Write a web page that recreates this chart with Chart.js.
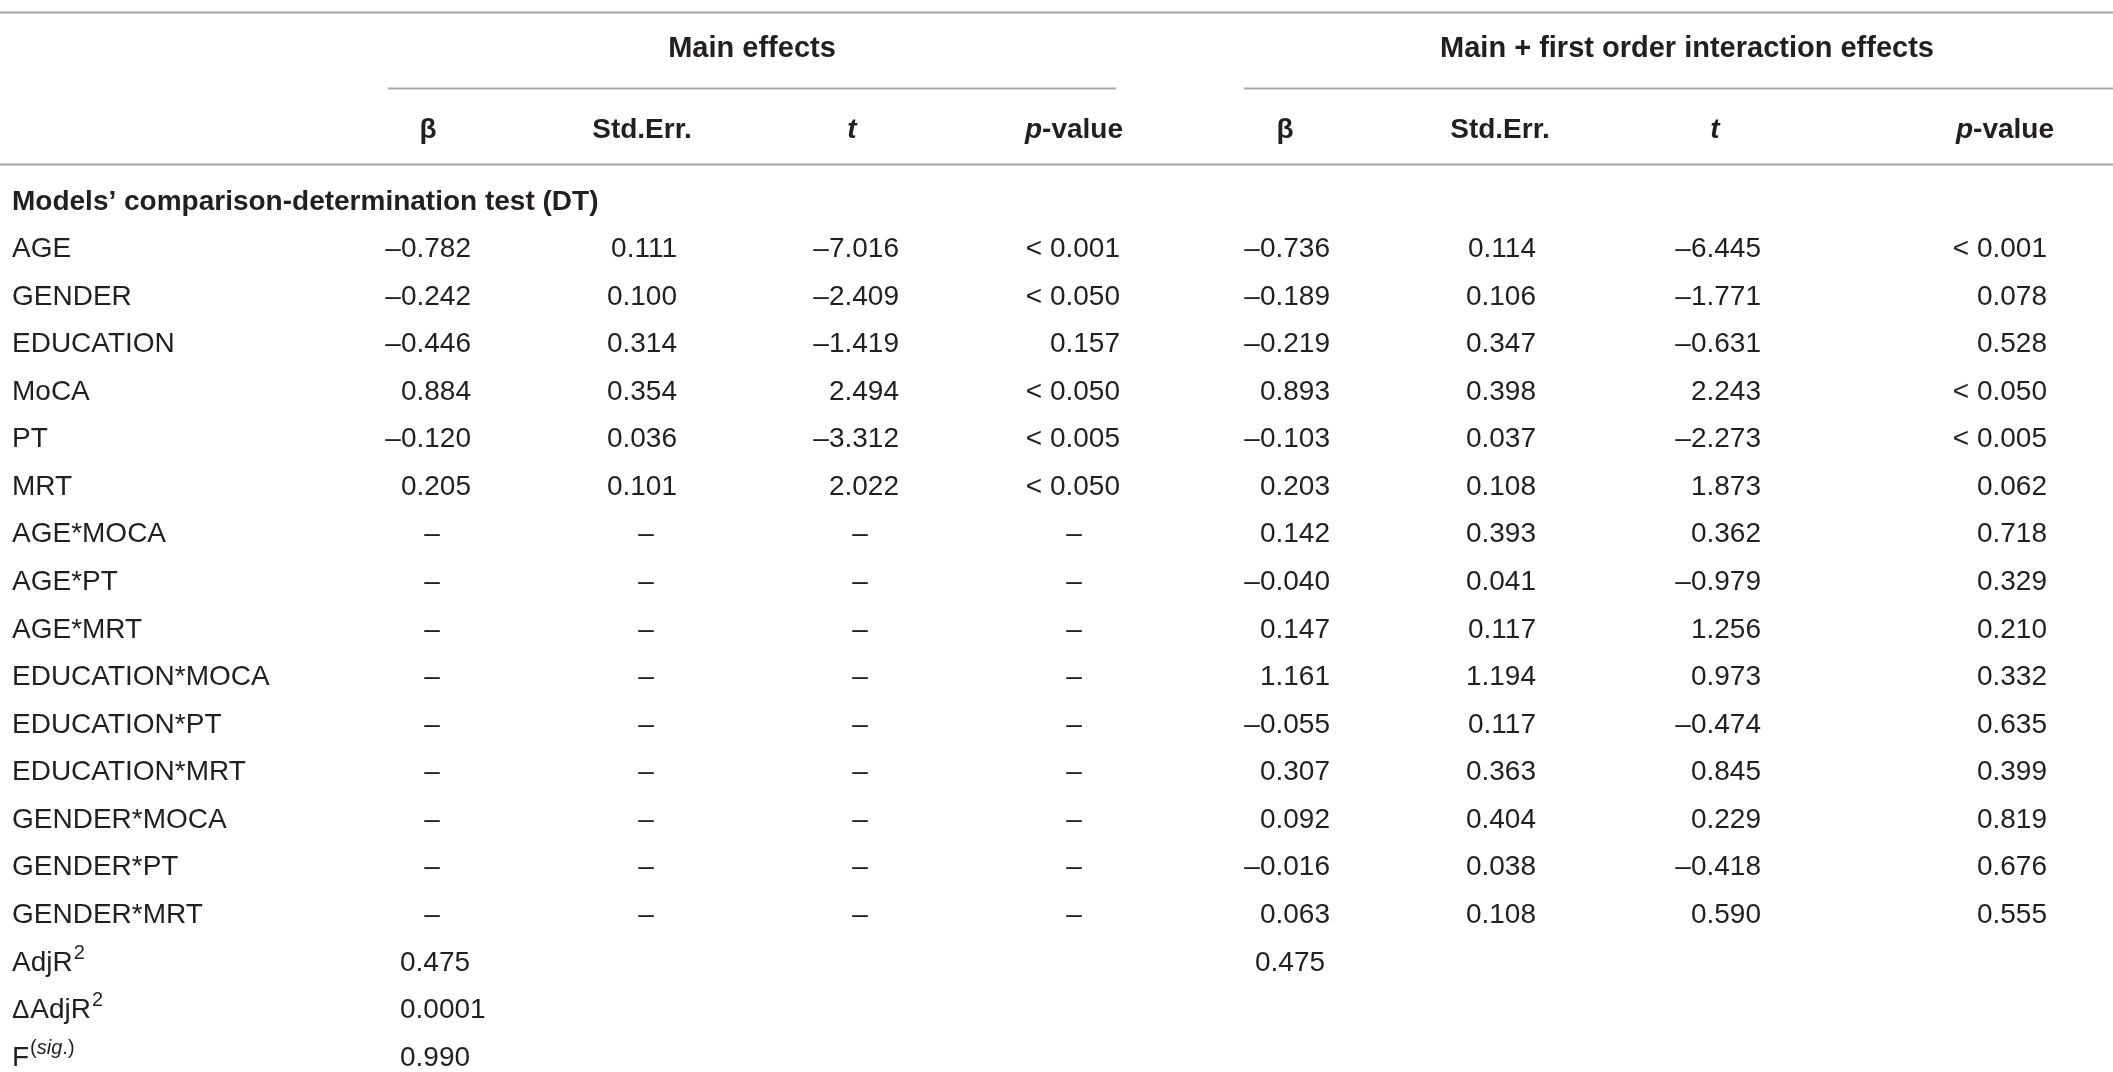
<!DOCTYPE html>
<html>
<head>
<meta charset="utf-8">
<script src="https://cdn.jsdelivr.net/npm/chart.js@4.4.1/dist/chart.umd.min.js"></script>
<style>
  body { margin: 0; background: #fff; }
  #wrap { width: 2113px; height: 1072px; }
</style>
</head>
<body>
<div id="wrap"><canvas id="tableChart"></canvas></div>
<script>
// table content
const rowLabels = ["AGE", "GENDER", "EDUCATION", "MoCA", "PT", "MRT", "AGE*MOCA", "AGE*PT", "AGE*MRT",
  "EDUCATION*MOCA", "EDUCATION*PT", "EDUCATION*MRT", "GENDER*MOCA", "GENDER*PT", "GENDER*MRT"];

const mainBeta = [-0.782, -0.242, -0.446, 0.884, -0.120, 0.205, null, null, null, null, null, null, null, null, null];
const mainSE   = [0.111, 0.100, 0.314, 0.354, 0.036, 0.101, null, null, null, null, null, null, null, null, null];
const mainT    = [-7.016, -2.409, -1.419, 2.494, -3.312, 2.022, null, null, null, null, null, null, null, null, null];
const mainP    = ["< 0.001", "< 0.050", "0.157", "< 0.050", "< 0.005", "< 0.050", null, null, null, null, null, null, null, null, null];

const interBeta = [-0.736, -0.189, -0.219, 0.893, -0.103, 0.203, 0.142, -0.040, 0.147, 1.161, -0.055, 0.307, 0.092, -0.016, 0.063];
const interSE   = [0.114, 0.106, 0.347, 0.398, 0.037, 0.108, 0.393, 0.041, 0.117, 1.194, 0.117, 0.363, 0.404, 0.038, 0.108];
const interT    = [-6.445, -1.771, -0.631, 2.243, -2.273, 1.873, 0.362, -0.979, 1.256, 0.973, -0.474, 0.845, 0.229, -0.418, 0.590];
const interP    = ["< 0.001", "0.078", "0.528", "< 0.050", "< 0.005", "0.062", "0.718", "0.329", "0.210", "0.332", "0.635", "0.399", "0.819", "0.676", "0.555"];

// AdjR2, delta AdjR2, F(sig.)
const fitMain  = ["0.475", "0.0001", "0.990"];
const fitInter = ["0.475", null, null];

const groupHeaders = ["Main effects", "Main + first order interaction effects"];
const sectionTitle = "Models\u2019 comparison-determination test (DT)";

// layout (x in canvas px, y in row units)
const layout = {
  labelX: 12,
  cols: [
    { right: 471, center: 428, dash: 432 },
    { right: 677, center: 642, dash: 646 },
    { right: 899, center: 852, dash: 860 },
    { right: 1120, center: 1074, dash: 1074 },
    { right: 1330, center: 1285, dash: 1289 },
    { right: 1536, center: 1500, dash: 1502 },
    { right: 1761, center: 1715, dash: 1718 },
    { right: 2047, center: 2005, dash: 2005 }
  ],
  fitX: [400, 1255],
  groups: [{ center: 752, from: 388, to: 1116 }, { center: 1687, from: 1244, to: 2113 }],
  groupRow: -4.2,
  headRow: -2.5,
  sectionRow: -0.99,
  lines: { top: -4.95, group: -3.34, head: -1.745 }
};

const textColor = "#231f20";
const lineColor = "#a8a8a8";
const fontFamily = "'Liberation Sans', Arial, sans-serif";
const F = (size, style) => (style || "") + " " + size + "px " + fontFamily;

function fmt(v) {
  if (v === null) return "\u2013";
  if (typeof v === "string") return v;
  return (v < 0 ? "\u2013" : "") + Math.abs(v).toFixed(3);
}

const columns = [mainBeta, mainSE, mainT, mainP, interBeta, interSE, interT, interP];

const datasets = columns.map((vals, k) => ({
  label: "col" + k,
  data: vals.map((v, i) => ({ x: v === null ? layout.cols[k].dash : layout.cols[k].right, y: i })),
  texts: vals.map(fmt),
  aligns: vals.map(v => v === null ? "center" : "right"),
  pointRadius: 0
}));

const fitRow0 = rowLabels.length;
datasets.push({
  label: "fitMain",
  data: fitMain.map((v, i) => ({ x: layout.fitX[0], y: fitRow0 + i })),
  texts: fitMain, aligns: fitMain.map(() => "left"), pointRadius: 0
});
datasets.push({
  label: "fitInter",
  data: fitInter.map((v, i) => ({ x: layout.fitX[1], y: fitRow0 + i })),
  texts: fitInter, aligns: fitInter.map(() => "left"), pointRadius: 0
});

function drawParts(ctx, parts, x, y, align) {
  let w = 0;
  parts.forEach(p => { ctx.font = p.font; w += ctx.measureText(p.t).width; });
  let cx = align === "center" ? x - w / 2 : align === "right" ? x - w : x;
  ctx.textAlign = "left";
  parts.forEach(p => {
    ctx.font = p.font;
    ctx.fillText(p.t, cx, y + (p.dy || 0));
    cx += ctx.measureText(p.t).width + (p.gap || 0);
  });
}

const tablePlugin = {
  id: "tablePlugin",
  afterDatasetsDraw(chart) {
    const ctx = chart.ctx;
    const xs = chart.scales.x, ys = chart.scales.y;
    const base = row => ys.getPixelForValue(row) + 10;
    ctx.save();

    // rules
    ctx.strokeStyle = lineColor;
    ctx.lineWidth = 2;
    const hline = (row, a, b) => {
      const py = Math.round(ys.getPixelForValue(row)) + 0.5;
      ctx.beginPath();
      ctx.moveTo(xs.getPixelForValue(a), py);
      ctx.lineTo(xs.getPixelForValue(b), py);
      ctx.stroke();
    };
    hline(layout.lines.top, 0, 2113);
    layout.groups.forEach(g => hline(layout.lines.group, g.from, g.to));
    hline(layout.lines.head, 0, 2113);

    ctx.fillStyle = textColor;
    ctx.textBaseline = "alphabetic";

    // group headers
    layout.groups.forEach((g, i) => {
      drawParts(ctx, [{ t: groupHeaders[i], font: F(29, "bold") }], xs.getPixelForValue(g.center), base(layout.groupRow), "center");
    });

    // column headers
    const heads = [
      [{ t: "\u03b2", font: F(28, "bold") }],
      [{ t: "Std.Err.", font: F(28, "bold") }],
      [{ t: "t", font: F(28, "italic bold") }],
      [{ t: "p", font: F(28, "italic bold") }, { t: "-value", font: F(28, "bold") }]
    ];
    layout.cols.forEach((c, k) => {
      drawParts(ctx, heads[k % 4], xs.getPixelForValue(c.center), base(layout.headRow), "center");
    });

    // section title
    drawParts(ctx, [{ t: sectionTitle, font: F(28, "bold") }], xs.getPixelForValue(layout.labelX), base(layout.sectionRow), "left");

    // row labels
    rowLabels.forEach((lab, i) => {
      drawParts(ctx, [{ t: lab, font: F(28) }], xs.getPixelForValue(layout.labelX), base(i), "left");
    });
    const sup = F(20);
    const fitLabels = [
      [{ t: "AdjR", font: F(28), gap: 1 }, { t: "2", font: sup, dy: -12 }],
      [{ t: "\u0394", font: F(26), gap: 1 }, { t: "AdjR", font: F(28), gap: 1 }, { t: "2", font: sup, dy: -12 }],
      [{ t: "F", font: F(28), gap: 1 }, { t: "(", font: sup, dy: -12 }, { t: "sig", font: F(20, "italic"), dy: -12 }, { t: ".)", font: sup, dy: -12 }]
    ];
    fitLabels.forEach((parts, i) => {
      drawParts(ctx, parts, xs.getPixelForValue(layout.labelX), base(fitRow0 + i), "left");
    });

    // cells
    chart.data.datasets.forEach((ds, di) => {
      const meta = chart.getDatasetMeta(di);
      meta.data.forEach((pt, i) => {
        const txt = ds.texts[i];
        if (txt === null) return;
        drawParts(ctx, [{ t: txt, font: F(28) }], pt.x, pt.y + 10, ds.aligns[i]);
      });
    });

    ctx.restore();
  }
};

new Chart(document.getElementById("tableChart").getContext("2d"), {
  type: "scatter",
  data: { datasets },
  options: {
    responsive: true,
    maintainAspectRatio: false,
    animation: false,
    layout: { padding: 0 },
    plugins: { legend: { display: false }, tooltip: { enabled: false } },
    scales: {
      x: { type: "linear", min: 0, max: 2113, display: false },
      y: { type: "linear", min: -5.192, max: 17.343, reverse: true, display: false }
    }
  },
  plugins: [tablePlugin]
});
</script>
</body>
</html>
